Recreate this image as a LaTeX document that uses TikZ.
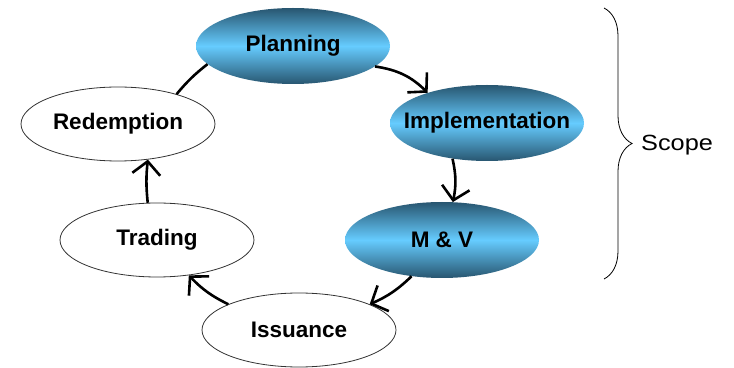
\documentclass[tikz,border=0pt]{standalone}
\usepackage{fontspec}
\setmainfont{Liberation Sans}
\usetikzlibrary{shapes.geometric,arrows.meta,decorations.pathreplacing}
\definecolor{bluedark}{HTML}{285670}
\definecolor{bluelight}{HTML}{66CCFF}
\newcommand{\zw}[1]{\makebox[0pt]{#1}}
\begin{document}
\begin{tikzpicture}[x=1pt,y=1pt,
  stage/.style={ellipse, minimum width=194pt, minimum height=76pt, inner sep=0pt,
    font=\fontsize{22.5}{24}\selectfont\bfseries},
  bluestage/.style={stage, top color=bluedark, bottom color=bluedark, middle color=bluelight},
  whitestage/.style={stage, draw=black!80, line width=0.8pt, fill=white},
  flow/.style={line width=2.6pt, -{Straight Barb[length=13pt,width=28pt]}},
  link/.style={line width=2.6pt}]
\useasboundingbox (0,0) rectangle (734,367);
\node[bluestage] (plan) at (293,321) {\zw{Planning}};
\node[bluestage] (impl) at (487,244) {\zw{Implementation}};
\node[bluestage] (mv) at (442,127) {\zw{M \& V}};
\node[whitestage, minimum height=74pt] (iss) at (299,37) {\zw{Issuance}};
\node[whitestage, minimum height=74pt] (red) at (118,243) {\zw{Redemption}};
\node[whitestage, minimum height=74pt] (trad) at (157,127) {\zw{Trading}};
\draw[flow] (plan.-14) to[bend left=18] (impl.153);
\draw[flow] (impl.-134) to[bend left=12] (mv.74);
\draw[flow] (mv.-130) to[bend left=10] (iss.20);
\draw[flow] (iss.160) to[bend left=10] (trad.-48);
\draw[flow] (trad.104) to[bend left=6] (red.-50);
\draw[link] (red.27) to[bend left=6] (plan.-168);
\coordinate (btop) at (604,359);
\coordinate (bbot) at (604,88);
\draw[line width=0.8pt, decorate, decoration={brace, amplitude=28pt, aspect=0.5}] (btop) -- (bbot);
\node[anchor=west, inner sep=0pt, font=\fontsize{22}{26}\selectfont] (scope) at (641,222) {\scalebox{1.15}[1]{Scope}};
\end{tikzpicture}
\end{document}
